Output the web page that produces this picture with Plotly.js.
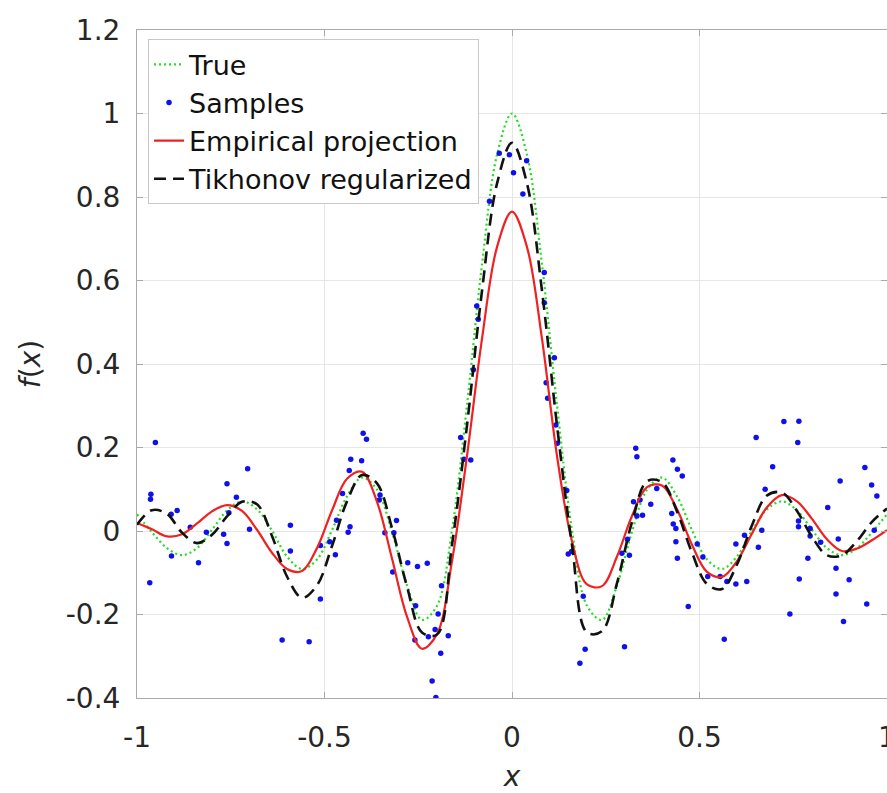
<!DOCTYPE html>
<html>
<head>
<meta charset="utf-8">
<script src="https://cdn.plot.ly/plotly-3.0.1.min.js"></script>
<style>html,body{margin:0;padding:0;background:#fff;}#chart{width:887px;height:793px;}</style>
</head>
<body>
<div id="chart"></div>
<script>
// Curve abscissae
var curveX = [-1,-0.96,-0.92,-0.88,-0.84,-0.80,-0.76,-0.72,-0.68,-0.64,-0.60,-0.56,-0.52,-0.48,-0.44,-0.40,-0.36,-0.32,-0.28,-0.24,-0.20,-0.16,-0.12,-0.08,-0.04,0,
  0.04,0.08,0.12,0.16,0.20,0.24,0.28,0.32,0.36,0.40,0.44,0.48,0.52,0.56,0.60,0.64,0.68,0.72,0.76,0.80,0.84,0.88,0.92,0.96,1];

// True function
var trueY = [0.040,-0.003,-0.041,-0.058,-0.041,0.003,0.049,0.071,0.052,0.001,-0.061,-0.091,-0.068,0.002,0.083,0.128,0.099,-0.002,-0.130,-0.213,-0.179,0.002,0.302,0.638,0.901,1.000,
  0.901,0.638,0.302,0.002,-0.179,-0.213,-0.130,-0.002,0.099,0.128,0.083,0.002,-0.068,-0.091,-0.061,0.001,0.052,0.071,0.049,0.003,-0.041,-0.058,-0.041,-0.003,0.040];

// Empirical projection
var empiricalY = [0.019,0.004,-0.013,-0.008,0.018,0.047,0.062,0.048,0.003,-0.052,-0.091,-0.096,-0.041,0.049,0.125,0.142,0.070,-0.066,-0.205,-0.282,-0.247,-0.072,0.180,0.460,0.680,0.765,
  0.680,0.460,0.180,-0.025,-0.128,-0.132,-0.061,0.036,0.105,0.109,0.052,-0.033,-0.098,-0.110,-0.072,-0.006,0.057,0.086,0.071,0.029,-0.020,-0.048,-0.042,-0.022,0.002];

// Tikhonov regularized
var tikhonovY = [0.015,0.050,0.041,-0.004,-0.029,-0.009,0.035,0.070,0.064,-0.012,-0.109,-0.160,-0.130,-0.036,0.071,0.134,0.114,0.007,-0.133,-0.243,-0.248,-0.033,0.253,0.575,0.832,0.930,
  0.832,0.575,0.253,-0.033,-0.243,-0.240,-0.125,0.021,0.119,0.117,0.047,-0.052,-0.127,-0.139,-0.080,0.014,0.085,0.092,0.048,-0.014,-0.058,-0.058,-0.024,0.022,0.054];

// Noisy samples
var sampleX = [-0.951,-0.963,-0.964,-0.966,-0.909,-0.893,-0.908,-0.858,-0.836,-0.815,-0.769,-0.760,-0.760,-0.755,-0.735,-0.705,-0.700,
  -0.591,-0.591,-0.511,-0.511,-0.486,-0.471,-0.468,-0.613,-0.541,
  -0.397,-0.388,-0.430,-0.401,-0.434,-0.452,-0.432,-0.437,-0.352,-0.354,-0.308,-0.339,-0.315,-0.318,-0.278,-0.252,-0.226,-0.188,
  -0.257,-0.197,-0.259,-0.223,-0.205,-0.170,-0.190,-0.213,-0.203,-0.137,-0.128,-0.110,-0.094,-0.090,-0.103,-0.060,
  -0.034,-0.007,0.004,0.039,0.029,0.086,0.086,0.113,0.091,0.095,
  0.117,0.121,0.146,0.150,0.159,0.190,0.195,0.181,0.300,0.293,0.313,0.308,0.330,0.333,0.324,0.341,0.333,0.348,0.370,0.386,
  0.429,0.441,0.454,0.426,0.430,0.437,0.437,0.441,0.470,0.494,0.509,0.522,0.555,0.566,0.573,0.597,0.626,0.597,0.620,0.657,0.666,
  0.675,0.651,0.695,0.725,0.765,0.762,0.764,0.764,0.795,0.795,0.823,0.789,0.766,0.741,0.842,0.875,0.870,0.864,0.864,0.899,0.884,
  0.941,0.959,0.973,0.966,0.946];
var sampleY = [0.212,0.088,0.076,-0.124,0.040,0.049,-0.060,0.009,-0.076,-0.003,-0.008,-0.030,0.113,0.044,0.081,0.149,0.004,
  0.014,-0.048,-0.035,-0.163,-0.026,-0.057,0.026,-0.261,-0.265,
  0.234,0.220,0.172,0.168,0.145,0.090,0.010,-0.003,0.086,0.074,0.025,-0.004,-0.004,-0.098,-0.076,-0.085,-0.077,-0.131,
  -0.179,-0.199,-0.261,-0.253,-0.236,-0.251,-0.293,-0.359,-0.399,0.224,0.172,0.170,0.539,0.507,0.386,0.790,
  0.905,0.901,0.858,0.887,0.807,0.619,0.547,0.415,0.355,0.318,
  0.254,0.210,0.097,-0.055,-0.049,-0.156,-0.283,-0.317,-0.277,-0.053,-0.058,-0.020,0.198,0.178,0.070,0.074,0.036,0.038,0.064,0.102,
  0.170,0.148,0.132,0.042,0.017,0.006,-0.026,-0.065,-0.181,-0.031,-0.062,-0.109,-0.109,-0.259,-0.121,-0.127,-0.121,-0.031,-0.010,-0.039,0.002,
  0.100,0.224,0.154,0.262,0.263,0.212,0.024,0.010,0.006,-0.012,-0.027,-0.065,-0.115,-0.199,0.056,0.120,-0.019,-0.089,-0.151,-0.117,-0.217,
  0.152,0.110,0.084,0.002,-0.175];

// Ticks
var xTickVals = [-1, -0.5, 0, 0.5, 1];
var xTickText = ["-1", "-0.5", "0", "0.5", "1"];
var yTickVals = [-0.4, -0.2, 0, 0.2, 0.4, 0.6, 0.8, 1, 1.2];
var yTickText = ["-0.4", "-0.2", "0", "0.2", "0.4", "0.6", "0.8", "1", "1.2"];

var FONT = "DejaVu Sans, Liberation Sans, Arial, sans-serif";

var traces = [
  {x: curveX, y: trueY, type: 'scatter', mode: 'lines', name: 'True',
   line: {color: '#22dd22', width: 2.2, dash: '2px,3px', shape: 'spline'}},
  {x: sampleX, y: sampleY, type: 'scatter', mode: 'markers', name: 'Samples',
   marker: {color: '#1010ee', size: 5.5, symbol: 'circle'}},
  {x: curveX, y: empiricalY, type: 'scatter', mode: 'lines', name: 'Empirical projection',
   line: {color: '#ee2222', width: 2.2, shape: 'spline'}},
  {x: curveX, y: tikhonovY, type: 'scatter', mode: 'lines', name: 'Tikhonov regularized',
   line: {color: '#111111', width: 2.6, dash: '12px,7px', shape: 'spline'}}
];

var axisCommon = {
  showgrid: true, gridcolor: '#e6e6e6', gridwidth: 1,
  zeroline: false, showline: true, linecolor: '#aaaaaa', linewidth: 1,
  mirror: 'ticks', ticks: 'inside', ticklen: 6, tickcolor: '#aaaaaa',
  tickfont: {family: FONT, size: 28, color: '#262626'},
  tickmode: 'array', automargin: false, ticklabeloverflow: 'allow'
};

var layout = {
  width: 887, height: 793,
  margin: {l: 137, r: 0, t: 30, b: 95},
  paper_bgcolor: '#ffffff', plot_bgcolor: '#ffffff',
  showlegend: true,
  xaxis: Object.assign({}, axisCommon, {
    range: [-1, 1], tickvals: xTickVals, ticktext: xTickText, ticklabelstandoff: 14,
    title: {text: '<i>x</i>', font: {family: FONT, size: 28, color: '#262626'}, standoff: 20}
  }),
  yaxis: Object.assign({}, axisCommon, {
    range: [-0.4, 1.2], tickvals: yTickVals, ticktext: yTickText, ticklabelstandoff: 10,
    title: {text: '<i>f</i>(<i>x</i>)', font: {family: FONT, size: 28, color: '#262626'}, standoff: 16}
  }),
  legend: {
    x: 0.0147, y: 0.986, xanchor: 'left', yanchor: 'top',
    bgcolor: '#ffffff', bordercolor: '#c8c8c8', borderwidth: 1,
    font: {family: FONT, size: 27, color: '#111111'},
    tracegroupgap: 0, itemwidth: 30
  }
};

Plotly.newPlot('chart', traces, layout, {displayModeBar: false, staticPlot: true});
</script>
</body>
</html>
